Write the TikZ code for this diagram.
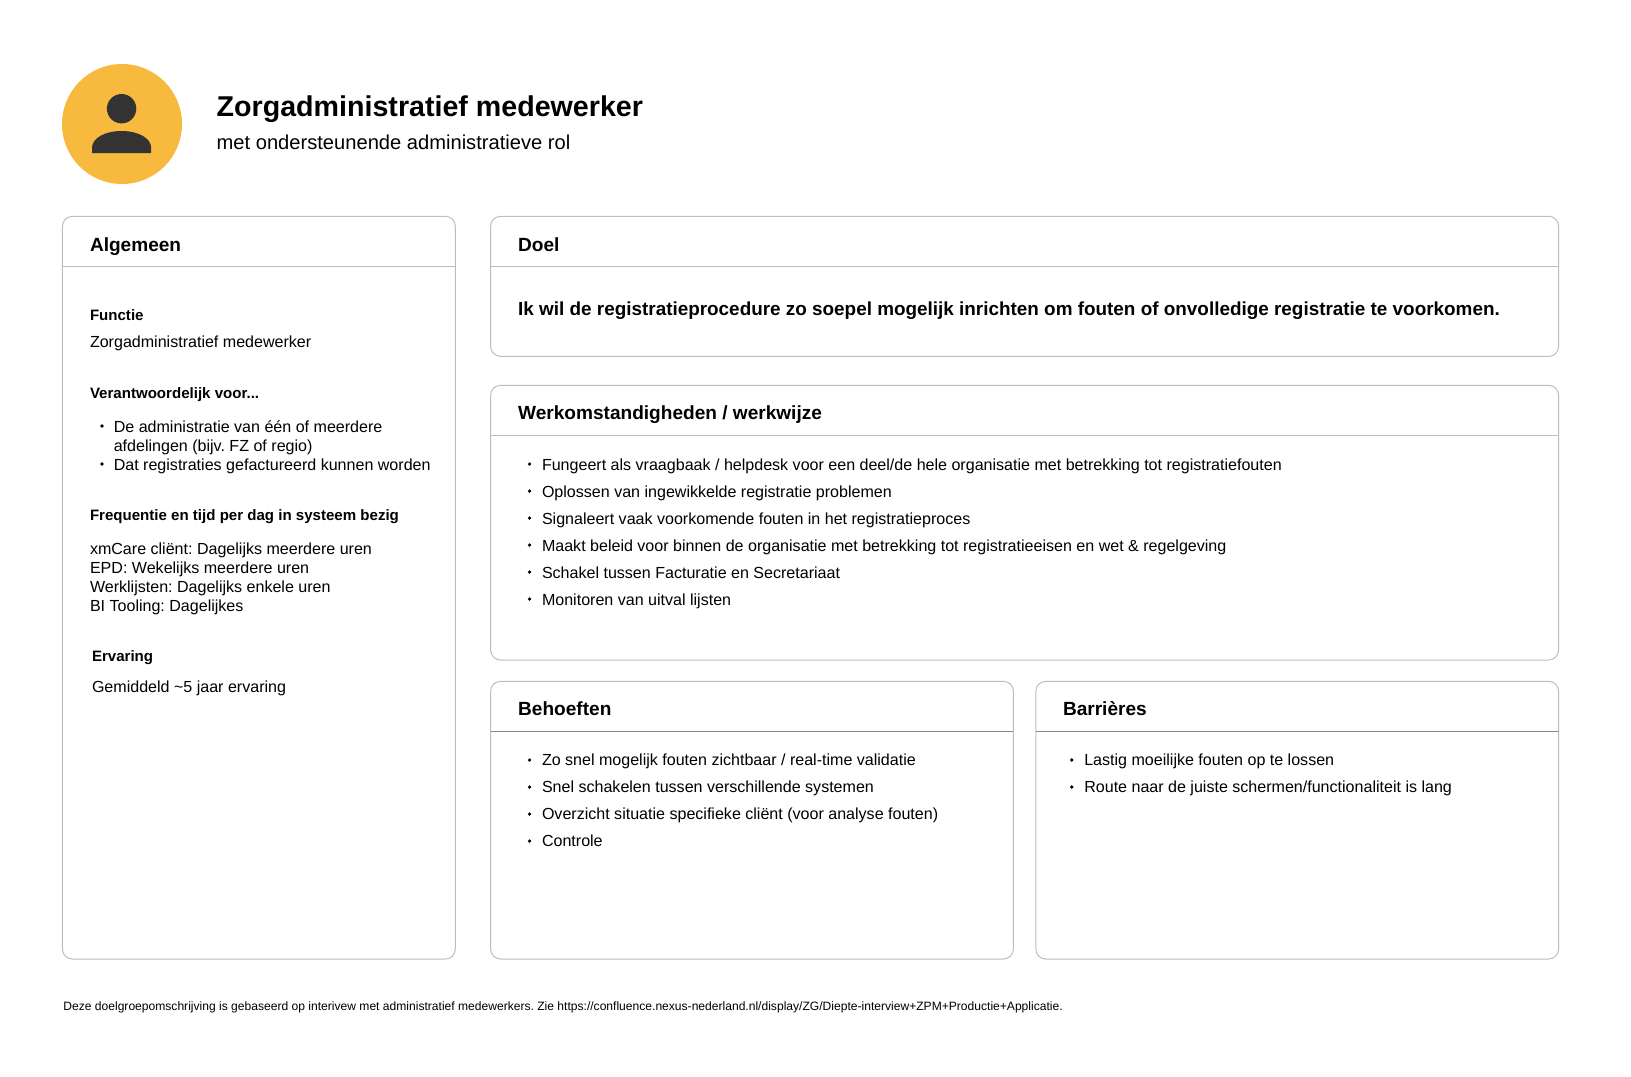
\documentclass[tikz,border=0pt]{standalone}
\usepackage{fontspec}
\setmainfont{Liberation Sans}
\frenchspacing
\definecolor{avatargeel}{HTML}{F7B93E}
\definecolor{avatardonker}{HTML}{333333}
\definecolor{kaderlijn}{HTML}{BDBDBD}
\definecolor{kopdonker}{HTML}{8A8A8A}
\tikzset{
    kaart/.style={draw=kaderlijn, line width=0.75pt, rounded corners=7.5pt},
    koplijn/.style={draw=kaderlijn, line width=0.75pt},
    kopdonkerlijn/.style={draw=kopdonker, line width=0.75pt},
    tekst/.style={anchor=base west, inner sep=0pt, outer sep=0pt, text=black, font=\fontsize{12.04}{14}\selectfont},
    titel/.style={tekst, font=\fontsize{21.47}{26}\selectfont\bfseries},
    ondertitel/.style={tekst, font=\fontsize{15.1}{18}\selectfont},
    kop/.style={tekst, font=\fontsize{14.3}{18}\selectfont\bfseries},
    doeltekst/.style={tekst, font=\fontsize{14.17}{18}\selectfont\bfseries},
    subkop/.style={tekst, font=\fontsize{11.3}{14}\selectfont\bfseries},
    voet/.style={tekst, font=\fontsize{9.06}{11}\selectfont},
    stip/.style={circle, fill=black, inner sep=0pt, minimum size=2.8pt},
}
\begin{document}
\begin{tikzpicture}[x=0.75pt, y=-0.75pt]
    \useasboundingbox (0,0) rectangle (1631,1076);
    % avatar
    \fill [avatargeel] (122,124) circle (60);
    \fill [avatardonker] (121.6,108.7) circle (14.7);
    \fill [avatardonker] (92,153) -- (92,148) .. controls (92,138) and (105,131) .. (121.6,131) .. controls (138,131) and (151.2,138) .. (151.2,148) -- (151.2,153) -- cycle;
    \node [titel] (titel) at (216.7,116) {Zorgadministratief medewerker};
    \node [ondertitel] (ondertitel) at (216.7,149) {met ondersteunende administratieve rol};
    % kaarten
    \draw [kaart] (62.4,216.3) rectangle (455.3,959);
    \draw [koplijn] (62.4,266.3) -- (455.3,266.3);
    \draw [kaart] (490.6,216.3) rectangle (1558.6,356.4);
    \draw [koplijn] (490.6,266.3) -- (1558.6,266.3);
    \draw [kaart] (490.6,385.3) rectangle (1558.6,660);
    \draw [koplijn] (490.6,435) -- (1558.6,435);
    \draw [kaart] (490.6,681.3) rectangle (1013.4,959);
    \draw [kopdonkerlijn] (490.6,731) -- (1013.4,731);
    \draw [kaart] (1035.8,681.3) rectangle (1558.6,959);
    \draw [kopdonkerlijn] (1035.8,731) -- (1558.6,731);
    % algemeen
    \node [kop] (algemeen) at (90,251) {Algemeen};
    \node [subkop] (functie) at (90,320) {Functie};
    \node [tekst] (functietekst) at (90,347.3) {Zorgadministratief medewerker};
    \node [subkop] (verantw) at (90,398.5) {Verantwoordelijk voor...};
    \node [stip] (vstip1) at (101.9,426) {};
    \node [tekst] (v1) at (113.8,432.1) {De administratie van één of meerdere};
    \node [tekst] (v2) at (113.8,451) {afdelingen (bijv. FZ of regio)};
    \node [stip] (vstip2) at (101.9,464) {};
    \node [tekst] (v3) at (113.8,470) {Dat registraties gefactureerd kunnen worden};
    \node [subkop] (frequentie) at (90,520) {Frequentie en tijd per dag in systeem bezig};
    \node [tekst] (f1) at (90,554.2) {xmCare cliënt: Dagelijks meerdere uren};
    \node [tekst] (f2) at (90,573.2) {EPD: Wekelijks meerdere uren};
    \node [tekst] (f3) at (90,592.2) {Werklijsten: Dagelijks enkele uren};
    \node [tekst] (f4) at (90,611.1) {BI Tooling: Dagelijkes};
    \node [subkop] (ervaring) at (92,661) {Ervaring};
    \node [tekst] (ervaringtekst) at (92,692.7) {Gemiddeld \textasciitilde 5 jaar ervaring};
    % doel
    \node [kop] (doel) at (518.2,251) {Doel};
    \node [doeltekst] (doeltekst) at (518.2,315.7) {Ik wil de registratieprocedure zo soepel mogelijk inrichten om fouten of onvolledige registratie te voorkomen.};
    % werkomstandigheden
    \node [kop] (werk) at (518.2,419.2) {Werkomstandigheden / werkwijze};
    \node [stip] (wstip1) at (529.6,464) {};
    \node [tekst] (w1) at (542,470.2) {Fungeert als vraagbaak / helpdesk voor een deel/de hele organisatie met betrekking tot registratiefouten};
    \node [stip] (wstip2) at (529.6,491) {};
    \node [tekst] (w2) at (542,497.2) {Oplossen van ingewikkelde registratie problemen};
    \node [stip] (wstip3) at (529.6,518) {};
    \node [tekst] (w3) at (542,524.2) {Signaleert vaak voorkomende fouten in het registratieproces};
    \node [stip] (wstip4) at (529.6,545) {};
    \node [tekst] (w4) at (542,551.2) {Maakt beleid voor binnen de organisatie met betrekking tot registratieeisen en wet \& regelgeving};
    \node [stip] (wstip5) at (529.6,572) {};
    \node [tekst] (w5) at (542,578) {Schakel tussen Facturatie en Secretariaat};
    \node [stip] (wstip6) at (529.6,599) {};
    \node [tekst] (w6) at (542,605) {Monitoren van uitval lijsten};
    % behoeften
    \node [kop] (behoeften) at (518.2,715.8) {Behoeften};
    \node [stip] (bstip1) at (529.6,760) {};
    \node [tekst] (b1) at (542,765.8) {Zo snel mogelijk fouten zichtbaar / real-time validatie};
    \node [stip] (bstip2) at (529.6,787) {};
    \node [tekst] (b2) at (542,792.8) {Snel schakelen tussen verschillende systemen};
    \node [stip] (bstip3) at (529.6,814) {};
    \node [tekst] (b3) at (542,819.9) {Overzicht situatie specifieke cliënt (voor analyse fouten)};
    \node [stip] (bstip4) at (529.6,841) {};
    \node [tekst] (b4) at (542,846.9) {Controle};
    % barrieres
    \node [kop] (barrieres) at (1063,715.8) {Barrières};
    \node [stip] (rstip1) at (1071.8,760) {};
    \node [tekst] (r1) at (1084.3,765.8) {Lastig moeilijke fouten op te lossen};
    \node [stip] (rstip2) at (1071.8,787) {};
    \node [tekst] (r2) at (1084.3,792.8) {Route naar de juiste schermen/functionaliteit is lang};
    % voet
    \node [voet] (voet) at (63.4,1010) {Deze doelgroepomschrijving is gebaseerd op interivew met administratief medewerkers. Zie https://confluence.nexus-nederland.nl/display/ZG/Diepte-interview+ZPM+Productie+Applicatie.};
\end{tikzpicture}
\end{document}
